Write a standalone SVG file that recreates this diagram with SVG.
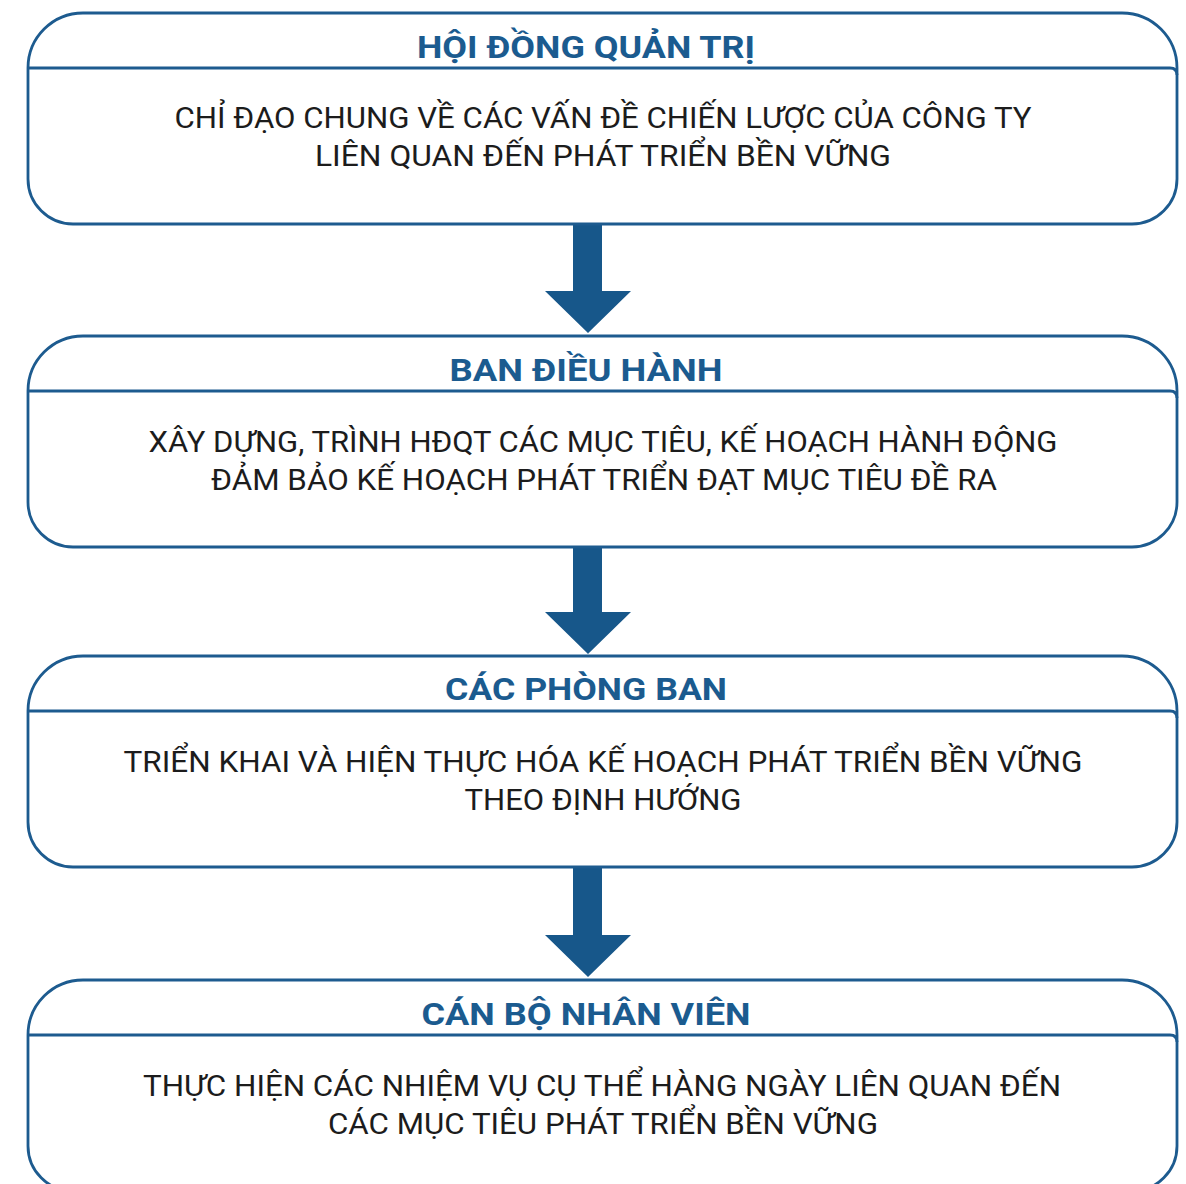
<svg xmlns="http://www.w3.org/2000/svg" width="1186" height="1184" viewBox="0 0 1186 1184">
  <style>
    .frame { fill: #ffffff; stroke: #1d5b8f; stroke-width: 2.8; }
    .hline { fill: none; stroke: #1d5b8f; stroke-width: 2.8; }
    .head { font-family: Roboto, "Noto Sans", "DejaVu Sans", sans-serif; font-weight: 700; font-size: 32px; fill: #1b5b8f; text-anchor: middle; }
    .body { font-family: Roboto, "Noto Sans", "DejaVu Sans", sans-serif; font-weight: 400; font-size: 30px; fill: #1c1c1c; text-anchor: middle; }
    .arrow { fill: #17578a; }
  </style>
  <defs>
    <path id="box" d="M28,55 A55,55 0 0 1 83,0 H1122 A55,55 0 0 1 1177,55 V166 A45,45 0 0 1 1132,211 H73 A45,45 0 0 1 28,166 Z"/>
    <path id="sep" d="M28,55 H1170 Q1177,55 1177,62"/>
  </defs>
  <rect width="1186" height="1184" fill="#ffffff"/>

  <g id="connectors">
    <path class="arrow" d="M573,224 H602 V291 H631 L588,333 L545,291 H573 Z"/>
    <path class="arrow" d="M573,547 H602 V612 H631 L588,654 L545,612 H573 Z"/>
    <path class="arrow" d="M573,867 H602 V935 H631 L588,977 L545,935 H573 Z"/>
  </g>

  <g id="node-hdqt" transform="translate(0,13)">
    <use href="#box" class="frame"/>
    <use href="#sep" class="hline"/>
    <text class="head" x="586" y="45" textLength="338" lengthAdjust="spacingAndGlyphs">HỘI ĐỒNG QUẢN TRỊ</text>
    <text class="body" x="603" y="115" textLength="857" lengthAdjust="spacingAndGlyphs">CHỈ ĐẠO CHUNG VỀ CÁC VẤN ĐỀ CHIẾN LƯỢC CỦA CÔNG TY</text>
    <text class="body" x="603" y="153" textLength="576" lengthAdjust="spacingAndGlyphs">LIÊN QUAN ĐẾN PHÁT TRIỂN BỀN VỮNG</text>
  </g>

  <g id="node-bdh" transform="translate(0,336)">
    <use href="#box" class="frame"/>
    <use href="#sep" class="hline"/>
    <text class="head" x="586" y="45" textLength="273" lengthAdjust="spacingAndGlyphs">BAN ĐIỀU HÀNH</text>
    <text class="body" x="603" y="116" textLength="909" lengthAdjust="spacingAndGlyphs">XÂY DỰNG, TRÌNH HĐQT CÁC MỤC TIÊU, KẾ HOẠCH HÀNH ĐỘNG</text>
    <text class="body" x="604" y="154" textLength="786" lengthAdjust="spacingAndGlyphs">ĐẢM BẢO KẾ HOẠCH PHÁT TRIỂN ĐẠT MỤC TIÊU ĐỀ RA</text>
  </g>

  <g id="node-cpb" transform="translate(0,656)">
    <use href="#box" class="frame"/>
    <use href="#sep" class="hline"/>
    <text class="head" x="586" y="44" textLength="282" lengthAdjust="spacingAndGlyphs">CÁC PHÒNG BAN</text>
    <text class="body" x="603" y="116" textLength="959" lengthAdjust="spacingAndGlyphs">TRIỂN KHAI VÀ HIỆN THỰC HÓA KẾ HOẠCH PHÁT TRIỂN BỀN VỮNG</text>
    <text class="body" x="603" y="154" textLength="277" lengthAdjust="spacingAndGlyphs">THEO ĐỊNH HƯỚNG</text>
  </g>

  <g id="node-cbnv" transform="translate(0,980)">
    <use href="#box" class="frame"/>
    <use href="#sep" class="hline"/>
    <text class="head" x="586" y="45" textLength="329" lengthAdjust="spacingAndGlyphs">CÁN BỘ NHÂN VIÊN</text>
    <text class="body" x="602" y="116" textLength="918" lengthAdjust="spacingAndGlyphs">THỰC HIỆN CÁC NHIỆM VỤ CỤ THỂ HÀNG NGÀY LIÊN QUAN ĐẾN</text>
    <text class="body" x="603" y="154" textLength="550" lengthAdjust="spacingAndGlyphs">CÁC MỤC TIÊU PHÁT TRIỂN BỀN VỮNG</text>
  </g>
</svg>
